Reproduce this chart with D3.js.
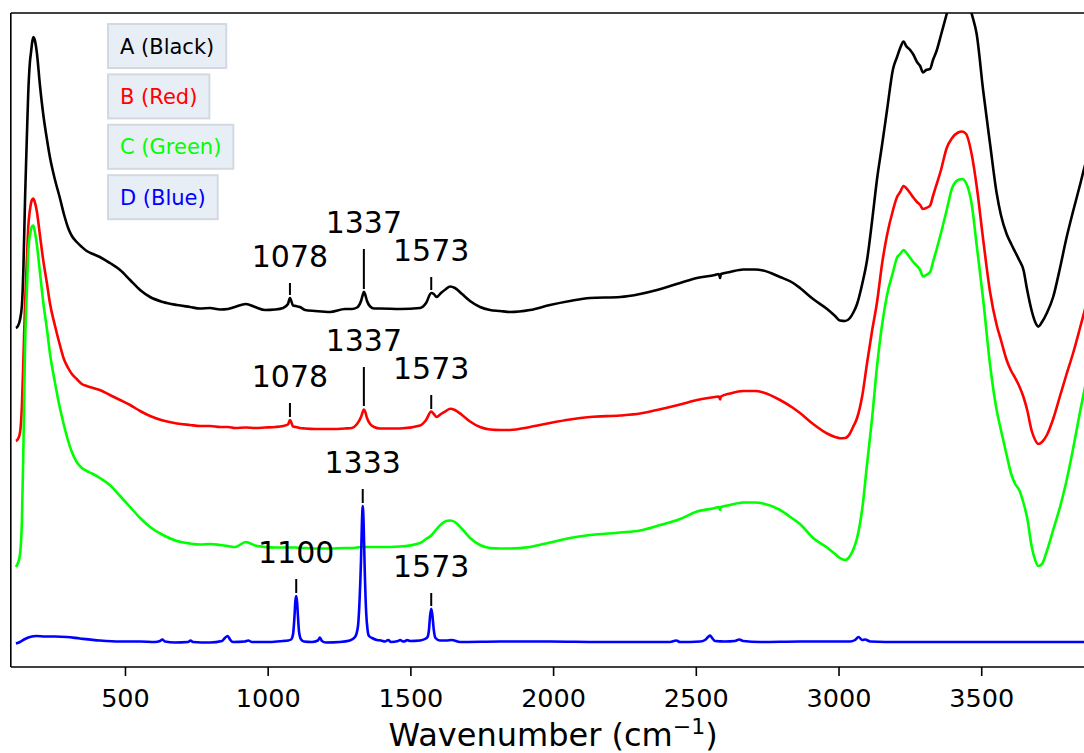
<!DOCTYPE html>
<html>
<head>
<meta charset="utf-8">
<script src="https://cdn.jsdelivr.net/npm/d3@7"></script>
<style>
  html, body { margin: 0; padding: 0; background: #ffffff; }
  svg { display: block; font-family: "DejaVu Sans", sans-serif; }
</style>
</head>
<body>
<svg id="chart" width="1084" height="753"></svg>
<script>
// Raman spectra, offset stack (intensity in arbitrary counts)
// Shared wavenumber grid (cm^-1) for spectra A, B and C
const waveABC = [
  118, 125, 132, 139, 144, 150, 157, 161, 167, 171,
  175, 179, 183, 191, 202, 214, 227, 237, 255, 272,
  286, 301, 314, 331, 349, 366, 388, 412, 447, 483,
  518, 553, 588, 633, 682, 728, 763, 798, 833, 861,
  885, 924, 956, 991, 1026, 1054, 1071, 1078, 1089, 1099,
  1113, 1131, 1166, 1218, 1271, 1295, 1313, 1327, 1333, 1337, 1342, 1348,
  1359, 1373, 1394, 1464, 1534, 1555, 1573, 1582, 1592, 1607,
  1625, 1639, 1656, 1681, 1709, 1744, 1779, 1814, 1849, 1919,
  1989, 2059, 2129, 2235, 2305, 2364, 2445, 2504, 2567, 2581,
  2585, 2588, 2620, 2666, 2708, 2736, 2795, 2841, 2865, 2911,
  2960, 2988, 3005, 3023, 3040, 3051, 3065, 3083, 3100, 3118,
  3135, 3153, 3170, 3191, 3205, 3216, 3228, 3237, 3251, 3262,
  3275, 3286, 3296, 3307, 3321, 3331, 3344, 3359, 3379, 3398,
  3419, 3433, 3447, 3467, 3484, 3507, 3531, 3554, 3569, 3589,
  3605, 3619, 3633, 3648, 3661, 3677, 3689, 3700, 3713, 3730,
  3752, 3776, 3797, 3823, 3846, 3860, 3881
];

// Spectrum A (black)
const intensityA = [
  339, 341, 347, 362, 397, 469, 537, 573, 605, 615,
  625, 630, 628, 615, 582, 552, 527, 510, 487, 469,
  453, 439, 431, 425, 420, 416, 413, 410, 404, 397,
  387, 377, 370, 365, 362, 360, 358.5, 359, 357.5, 358,
  360, 363, 360, 357, 357.5, 359, 363, 369, 361.5, 361,
  360, 357, 356, 355, 358, 358, 359.5, 366, 372, 375.3, 372, 366,
  360.5, 358.5, 358.5, 358, 359, 364, 374, 373, 370, 374,
  378, 380.5, 379, 373, 366, 360, 357, 356, 355, 357,
  362, 366, 369, 370, 373, 377, 384, 389, 392, 393,
  389, 393, 395, 397.5, 397.5, 396.5, 390, 384, 379, 368,
  358, 351, 346.5, 346, 349, 354, 363, 383, 407, 447,
  488, 523, 557, 598, 610, 619, 625.5, 621, 617, 612.5,
  605, 601, 594.5, 597, 598.2, 607, 616.5, 632, 653, 672,
  682, 684, 677, 653, 633, 576, 523, 474, 452, 433,
  423, 415, 407, 397, 377, 356, 345, 340.4, 345, 354,
  370, 399, 427, 457, 482, 498, 519
];

// Spectrum B (red)
const intensityB = [
  226, 228, 234, 262, 307, 364, 412, 439, 457, 464,
  467.5, 468.5, 466, 456, 432, 406, 383, 364, 341, 322,
  308, 299, 293, 288, 283, 281, 279, 277, 272, 267,
  262, 256, 251, 246.5, 243.5, 242, 241, 241, 240, 240,
  239, 239.5, 239, 239.5, 240, 241, 242.5, 247, 240.5, 240,
  239, 238.5, 238, 238, 238.5, 239, 243, 250, 255, 257.5, 255, 249,
  243, 240, 238.5, 238.5, 241.5, 247, 255.5, 253, 250, 253,
  256, 258.3, 257, 252, 245.5, 240, 237.5, 237, 237, 240,
  244, 247.5, 250, 251.5, 253.5, 257, 262.5, 267, 270, 270.5,
  267.5, 270.5, 273.5, 276, 276, 274.5, 267, 259, 254, 243,
  233.5, 230, 228.8, 229, 233.5, 240, 249, 271, 304, 337,
  365, 404, 432, 457, 470, 475, 481, 479, 474, 469.5,
  465, 462, 458, 459, 461.5, 471, 483, 497, 519, 529,
  534.5, 535.5, 533, 512, 481, 427, 375, 342, 327, 307,
  296, 289, 281, 270, 257, 236, 227, 223, 225, 232,
  248, 271, 291, 315, 339, 354, 375
];

// Spectrum C (green)
const intensityC = [
  100, 104, 112, 147, 217, 322, 382, 414, 432, 438,
  441, 441.4, 437, 423, 395, 364, 337, 314, 284, 259,
  242, 226, 215, 205, 199, 196, 193, 189, 182, 171,
  160, 149, 140, 132, 126, 123.5, 122.5, 123, 122, 121,
  120, 125, 121.5, 120, 119.5, 119.5, 119.5, 119.5, 119.5, 119.5,
  119, 119, 118.5, 118.5, 119, 119, 119.5, 120, 120, 120, 120, 120,
  120, 120, 120, 120.5, 124, 128, 131.5, 134.5, 138, 142.5,
  146, 146.5, 145, 138, 129, 122, 119, 118.5, 118.5, 120,
  124.5, 129, 132, 134.5, 136.5, 141, 148, 155.5, 159, 160,
  157, 160, 162, 164.5, 164.5, 163.5, 157, 148, 143, 129,
  119.5, 113, 109, 107, 111, 117, 129, 158, 203, 250,
  301, 343, 372, 395, 409.5, 413, 417, 414.5, 409, 405,
  401, 397, 390.5, 392, 395, 405, 418, 434, 457, 479,
  487, 488, 484, 462, 422, 367, 302, 257, 237, 212,
  193, 183, 177, 164, 149, 120, 107, 101, 103, 116,
  137, 160, 184, 220, 255, 275, 305
];

// Spectrum D (blue) on its own grid
const waveD = [
  118, 132, 150, 167, 191, 220, 255, 296, 342, 412,
  483, 553, 605, 623, 631, 640, 675, 721, 730, 738,
  798, 840, 850, 860, 868, 878, 920, 932, 945, 1008,
  1054, 1071, 1082, 1089, 1094, 1097, 1100, 1103, 1106, 1110,
  1117, 1127, 1155, 1176, 1183, 1190, 1204, 1253, 1288, 1306,
  1316, 1322, 1327, 1330, 1333, 1336, 1340, 1345, 1350, 1355,
  1369, 1383, 1397, 1411, 1422, 1432, 1457, 1464, 1474, 1483,
  1488, 1499, 1534, 1551, 1560, 1565, 1569, 1573, 1577, 1582,
  1588, 1603, 1625, 1645, 1674, 1814, 1989, 2164, 2340, 2410,
  2431, 2445, 2515, 2532, 2543, 2550, 2557, 2567, 2602, 2637,
  2652, 2666, 2725, 2865, 3040, 3058, 3070, 3083, 3093, 3111,
  3216, 3391, 3566, 3741, 3881
];
const intensityD = [
  23.5, 25, 28, 30, 31, 30.5, 30.5, 30, 28.5, 26.5,
  25.5, 25.5, 25, 26, 27.5, 25.5, 24.5, 25, 26.5, 25,
  24.5, 26, 29, 31, 27.5, 25, 25.5, 26.5, 25, 25,
  26, 26.5, 27.5, 33, 51, 66, 71, 65, 51, 35,
  27.5, 25.5, 25, 26.5, 29.5, 26, 24.5, 25, 26.5, 30,
  40, 67, 107, 142, 161, 145, 97, 55, 37, 31,
  28.5, 27, 26.5, 25.5, 27, 25, 26, 27, 25.5, 26,
  27, 26, 26.5, 28, 30, 37, 51, 58.3, 52, 37,
  29, 26.5, 26.5, 27, 25, 25.5, 25.5, 25, 25, 25,
  26.5, 25, 25.5, 27, 30, 31.5, 29, 26, 25.5, 26,
  27.5, 26, 25, 25.5, 25.5, 27, 30, 27, 27.5, 25.5,
  25, 25, 25, 25, 25
];

// Legend entries and colours
const seriesNames = ["A", "B", "C", "D"];
const legendLabels = ["A (Black)", "B (Red)", "C (Green)", "D (Blue)"];
const seriesColors = ["#000000", "#ff0000", "#00ff00", "#0000ff"];

// Peak annotations: series, wavenumber, text anchor height, peak height
const annotSeries = ["A", "A", "A", "B", "B", "B", "D", "D", "D"];
const annotWave   = [1078, 1337, 1573, 1078, 1337, 1573, 1100, 1333, 1573];
const annotTextY  = [400, 434, 406, 280, 316, 288, 104, 194, 90];
const annotTipY   = [369, 375, 374, 247, 258, 255, 71, 161, 58];

// Axis
const xTicks = [500, 1000, 1500, 2000, 2500, 3000, 3500];
const xDomain = [100, 3900];
const yDomain = [0, 654];

// ---------- drawing ----------
const svg = d3.select("#chart");
const plot = { left: 10.8, right: 1095.4, top: 13, bottom: 667 };

const x = d3.scaleLinear().domain(xDomain).range([plot.left, plot.right]);
const y = d3.scaleLinear().domain(yDomain).range([plot.bottom, plot.top]);

svg.append("defs").append("clipPath").attr("id", "plot-clip")
  .append("rect")
  .attr("x", plot.left).attr("y", plot.top)
  .attr("width", plot.right - plot.left)
  .attr("height", plot.bottom - plot.top);

const spectra = [
  { name: "A", wave: waveABC, values: intensityA },
  { name: "B", wave: waveABC, values: intensityB },
  { name: "C", wave: waveABC, values: intensityC },
  { name: "D", wave: waveD, values: intensityD }
];

const line = d3.line()
  .curve(d3.curveMonotoneX)
  .x(d => x(d[0]))
  .y(d => y(d[1]));

const lines = svg.append("g").attr("clip-path", "url(#plot-clip)");
spectra.forEach((s, i) => {
  const pts = s.wave.map((w, k) => [w, s.values[k]]);
  lines.append("path")
    .datum(pts)
    .attr("d", line)
    .attr("fill", "none")
    .attr("stroke", seriesColors[i])
    .attr("stroke-width", 2.6)
    .attr("stroke-linejoin", "round")
    .attr("stroke-linecap", "butt");
});

// peak labels with short leader lines
const ann = svg.append("g");
annotWave.forEach((w, i) => {
  const px = x(w);
  const ty = y(annotTextY[i]);
  const tipY = y(annotTipY[i]);
  ann.append("line")
    .attr("x1", px).attr("x2", px)
    .attr("y1", ty + 16).attr("y2", tipY - 3)
    .attr("stroke", "#000").attr("stroke-width", 2);
  ann.append("text")
    .attr("x", px).attr("y", ty)
    .attr("text-anchor", "middle")
    .attr("font-size", 30)
    .attr("fill", "#000")
    .text(String(w));
});

// legend boxes
const leg = svg.append("g");
legendLabels.forEach((lab, i) => {
  const top = 24 + i * 50.4;
  const g = leg.append("g");
  const rect = g.append("rect")
    .attr("x", 108).attr("y", top)
    .attr("height", 44)
    .attr("fill", "#e8eef5")
    .attr("stroke", "#d3d9e0")
    .attr("stroke-width", 2);
  const t = g.append("text")
    .attr("x", 120).attr("y", top + 29.5)
    .attr("font-size", 21)
    .attr("fill", seriesColors[i])
    .text(lab);
  const w = t.node().getComputedTextLength();
  rect.attr("width", w + 24);
});

// x axis
const xAxis = d3.axisBottom(x).tickValues(xTicks).tickSize(9).tickFormat(d3.format("d"));
const ax = svg.append("g").attr("transform", `translate(0,${plot.bottom})`).call(xAxis);
ax.select(".domain").remove();
ax.selectAll(".tick line").attr("stroke", "#000").attr("stroke-width", 1.6);
ax.selectAll(".tick text")
  .attr("y", 39.5).attr("dy", null)
  .attr("font-size", 25.5)
  .attr("font-family", "DejaVu Sans, sans-serif")
  .attr("fill", "#000");

// frame (left, top, bottom spines; right spine lies past the window)
const frame = svg.append("g").attr("stroke", "#000").attr("stroke-width", 1.6).attr("fill", "none");
frame.append("line").attr("x1", plot.left).attr("x2", plot.left).attr("y1", plot.top).attr("y2", plot.bottom);
frame.append("line").attr("x1", plot.left).attr("x2", plot.right).attr("y1", plot.top).attr("y2", plot.top);
frame.append("line").attr("x1", plot.left).attr("x2", plot.right).attr("y1", plot.bottom).attr("y2", plot.bottom);
frame.append("line").attr("x1", plot.right).attr("x2", plot.right).attr("y1", plot.top).attr("y2", plot.bottom);

// axis title
const title = svg.append("text")
  .attr("x", (plot.left + plot.right) / 2)
  .attr("y", 745.5)
  .attr("text-anchor", "middle")
  .attr("font-size", 32)
  .attr("fill", "#000");
title.append("tspan").text("Wavenumber (cm");
title.append("tspan").attr("font-size", 22).attr("dy", -12).text("\u22121");
title.append("tspan").attr("dy", 12).text(")");
</script>
</body>
</html>
